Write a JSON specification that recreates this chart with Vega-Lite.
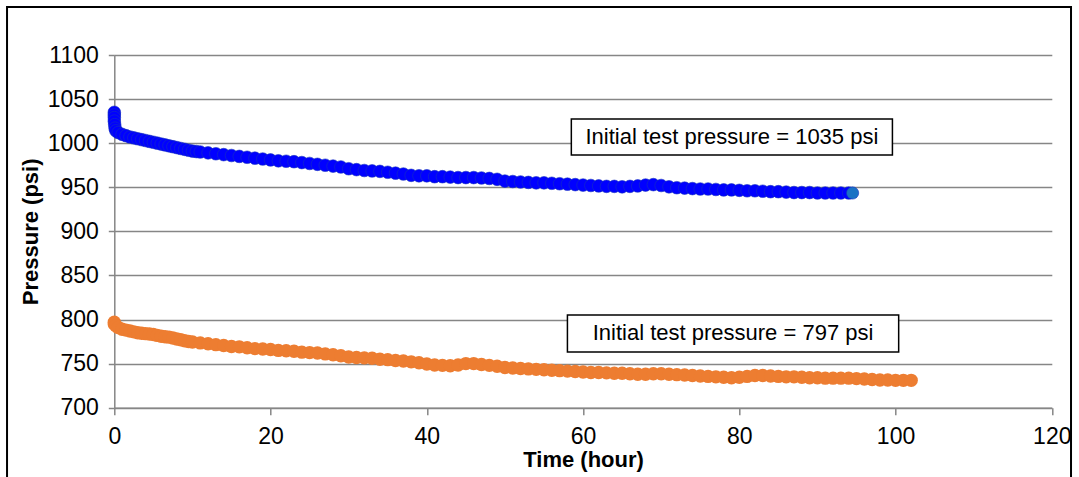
{
  "$schema": "https://vega.github.io/schema/vega-lite/v6.json",
  "width": 937.5,
  "height": 352.7,
  "autosize": {"type": "none"},
  "padding": {"left": 114.3, "top": 55, "right": 27.2, "bottom": 69.3},
  "background": "white",
  "config": {"view": {"stroke": null}, "font": "Liberation Sans"},
  "datasets": {
    "blue": [
      {"t": 0, "p": 1035}, {"t": 0, "p": 1032}, {"t": 0, "p": 1029}, {"t": 0, "p": 1025}, {"t": 0.05, "p": 1021}, {"t": 0.1, "p": 1017}, {"t": 0.2, "p": 1014},
      {"t": 0.5, "p": 1012}, {"t": 1, "p": 1010}, {"t": 1.5, "p": 1008.5}, {"t": 2, "p": 1007}, {"t": 2.5, "p": 1006}, {"t": 3, "p": 1005}, {"t": 3.5, "p": 1004}, {"t": 4, "p": 1003}, {"t": 4.5, "p": 1002}, {"t": 5, "p": 1001},
      {"t": 5.5, "p": 1000}, {"t": 6, "p": 999}, {"t": 6.5, "p": 998}, {"t": 7, "p": 997}, {"t": 7.5, "p": 996}, {"t": 8, "p": 995}, {"t": 8.5, "p": 994}, {"t": 9, "p": 993}, {"t": 9.5, "p": 992}, {"t": 10, "p": 991}, {"t": 10.5, "p": 990.5}, {"t": 11, "p": 990},
      {"t": 12, "p": 989}, {"t": 13, "p": 988}, {"t": 14, "p": 987}, {"t": 15, "p": 986}, {"t": 16, "p": 985}, {"t": 17, "p": 984},
      {"t": 18, "p": 983}, {"t": 19, "p": 982}, {"t": 20, "p": 981}, {"t": 21, "p": 980}, {"t": 22, "p": 979.5}, {"t": 23, "p": 979},
      {"t": 24, "p": 978}, {"t": 25, "p": 977}, {"t": 26, "p": 976}, {"t": 27, "p": 975}, {"t": 28, "p": 974}, {"t": 29, "p": 973},
      {"t": 30, "p": 971}, {"t": 31, "p": 970}, {"t": 32, "p": 969}, {"t": 33, "p": 968.5}, {"t": 34, "p": 968}, {"t": 35, "p": 967},
      {"t": 36, "p": 966}, {"t": 37, "p": 965}, {"t": 38, "p": 963.5}, {"t": 39, "p": 963}, {"t": 40, "p": 963}, {"t": 41, "p": 962},
      {"t": 42, "p": 962}, {"t": 43, "p": 961.5}, {"t": 44, "p": 961}, {"t": 45, "p": 961}, {"t": 46, "p": 961}, {"t": 47, "p": 960.5},
      {"t": 48, "p": 960}, {"t": 49, "p": 959}, {"t": 50, "p": 957}, {"t": 51, "p": 956.5}, {"t": 52, "p": 956}, {"t": 53, "p": 955.5},
      {"t": 54, "p": 955}, {"t": 55, "p": 955}, {"t": 56, "p": 954.5}, {"t": 57, "p": 954}, {"t": 58, "p": 953.5}, {"t": 59, "p": 953},
      {"t": 60, "p": 952.5}, {"t": 61, "p": 952}, {"t": 62, "p": 951.5}, {"t": 63, "p": 951}, {"t": 64, "p": 951}, {"t": 65, "p": 950.5},
      {"t": 66, "p": 951}, {"t": 67, "p": 951.5}, {"t": 68, "p": 952.5}, {"t": 69, "p": 953}, {"t": 70, "p": 952}, {"t": 71, "p": 950.5},
      {"t": 72, "p": 949.5}, {"t": 73, "p": 949}, {"t": 74, "p": 948.5}, {"t": 75, "p": 948}, {"t": 76, "p": 948}, {"t": 77, "p": 947.5},
      {"t": 78, "p": 947}, {"t": 79, "p": 947}, {"t": 80, "p": 946.5}, {"t": 81, "p": 946}, {"t": 82, "p": 946}, {"t": 83, "p": 945.5},
      {"t": 84, "p": 945}, {"t": 85, "p": 945}, {"t": 86, "p": 944.5}, {"t": 87, "p": 944}, {"t": 88, "p": 944}, {"t": 89, "p": 944},
      {"t": 90, "p": 943.5}, {"t": 91, "p": 943.5}, {"t": 92, "p": 943.5}, {"t": 93, "p": 943.5}, {"t": 94, "p": 943.5}
    ],
    "blueLast": [{"t": 94.5, "p": 943.5}],
    "orange": [
      {"t": 0, "p": 797}, {"t": 0, "p": 795}, {"t": 0.2, "p": 793}, {"t": 0.5, "p": 791},
      {"t": 1, "p": 789}, {"t": 1.5, "p": 788}, {"t": 2, "p": 787}, {"t": 2.5, "p": 786}, {"t": 3, "p": 785}, {"t": 3.5, "p": 784.5}, {"t": 4, "p": 784}, {"t": 4.5, "p": 783.5}, {"t": 5, "p": 783}, {"t": 5.5, "p": 782}, {"t": 6, "p": 781},
      {"t": 6.5, "p": 780.5}, {"t": 7, "p": 780}, {"t": 7.5, "p": 779}, {"t": 8, "p": 778}, {"t": 8.5, "p": 777}, {"t": 9, "p": 776}, {"t": 9.5, "p": 775}, {"t": 10, "p": 774.5}, {"t": 11, "p": 773.5}, {"t": 12, "p": 772.5},
      {"t": 13, "p": 771.5}, {"t": 14, "p": 770.5}, {"t": 15, "p": 769.5}, {"t": 16, "p": 769}, {"t": 17, "p": 768}, {"t": 18, "p": 767},
      {"t": 19, "p": 766.5}, {"t": 20, "p": 766}, {"t": 21, "p": 765}, {"t": 22, "p": 764.5}, {"t": 23, "p": 764}, {"t": 24, "p": 763},
      {"t": 25, "p": 762.5}, {"t": 26, "p": 762}, {"t": 27, "p": 761}, {"t": 28, "p": 760}, {"t": 29, "p": 759}, {"t": 30, "p": 757.5},
      {"t": 31, "p": 757}, {"t": 32, "p": 756.5}, {"t": 33, "p": 756}, {"t": 34, "p": 755}, {"t": 35, "p": 754.5}, {"t": 36, "p": 753.5},
      {"t": 37, "p": 753}, {"t": 38, "p": 752}, {"t": 39, "p": 751}, {"t": 40, "p": 749.5}, {"t": 41, "p": 748.5}, {"t": 42, "p": 748},
      {"t": 43, "p": 747.5}, {"t": 44, "p": 748.5}, {"t": 45, "p": 750}, {"t": 46, "p": 750}, {"t": 47, "p": 749}, {"t": 48, "p": 748},
      {"t": 49, "p": 747}, {"t": 50, "p": 745.5}, {"t": 51, "p": 745}, {"t": 52, "p": 744.5}, {"t": 53, "p": 744}, {"t": 54, "p": 743.5},
      {"t": 55, "p": 743}, {"t": 56, "p": 742.5}, {"t": 57, "p": 742}, {"t": 58, "p": 741.5}, {"t": 59, "p": 741}, {"t": 60, "p": 740.5},
      {"t": 61, "p": 740}, {"t": 62, "p": 740}, {"t": 63, "p": 739.5}, {"t": 64, "p": 739}, {"t": 65, "p": 739}, {"t": 66, "p": 738.5},
      {"t": 67, "p": 738}, {"t": 68, "p": 738}, {"t": 69, "p": 738.5}, {"t": 70, "p": 738.5}, {"t": 71, "p": 738}, {"t": 72, "p": 737.5},
      {"t": 73, "p": 737}, {"t": 74, "p": 736.5}, {"t": 75, "p": 736}, {"t": 76, "p": 735.5}, {"t": 77, "p": 735}, {"t": 78, "p": 734.5},
      {"t": 79, "p": 734}, {"t": 80, "p": 734.5}, {"t": 81, "p": 735.5}, {"t": 82, "p": 736.5}, {"t": 83, "p": 736.5}, {"t": 84, "p": 736},
      {"t": 85, "p": 735.5}, {"t": 86, "p": 735}, {"t": 87, "p": 735}, {"t": 88, "p": 734.5}, {"t": 89, "p": 734}, {"t": 90, "p": 734},
      {"t": 91, "p": 733.5}, {"t": 92, "p": 733.5}, {"t": 93, "p": 733.5}, {"t": 94, "p": 733.5}, {"t": 95, "p": 733}, {"t": 96, "p": 732.5},
      {"t": 97, "p": 732}, {"t": 98, "p": 731.5}, {"t": 99, "p": 731.5}, {"t": 100, "p": 731}, {"t": 101, "p": 731}, {"t": 102, "p": 731}
    ]
  },
  "layer": [
    {
      "data": {"values": [{}]},
      "mark": {"type": "rect", "fillOpacity": 0, "stroke": "black", "strokeWidth": 2, "clip": false},
      "encoding": {
        "x": {"datum": -13.73, "type": "quantitative", "scale": {"domain": [0, 120], "nice": false, "zero": false}},
        "x2": {"datum": 122.46},
        "y": {"datum": 1154.4, "type": "quantitative", "scale": {"domain": [700, 1100], "nice": false, "zero": false}},
        "y2": {"datum": 600}
      }
    },
    {
      "data": {"name": "blue"},
      "mark": {"type": "point", "shape": "circle", "filled": true, "size": 160, "color": "#0000FF", "stroke": "#1530c0", "strokeWidth": 0.6, "opacity": 1, "clip": false},
      "encoding": {
        "x": {
          "field": "t", "type": "quantitative",
          "scale": {"domain": [0, 120], "nice": false, "zero": false},
          "axis": {
            "values": [0, 20, 40, 60, 80, 100, 120], "grid": false, "format": "d", "labelFlush": false,
            "domain": true, "domainColor": "#868686", "domainWidth": 1.5,
            "ticks": true, "tickColor": "#868686", "tickSize": 7, "tickWidth": 1.5,
            "labelFontSize": 23, "labelColor": "black", "labelPadding": 11, "labelFont": "Liberation Sans",
            "title": "Time (hour)", "titleFontSize": 22, "titleFontWeight": "bold", "titleColor": "black", "titlePadding": 1, "titleFont": "Liberation Sans"
          }
        },
        "y": {
          "field": "p", "type": "quantitative",
          "scale": {"domain": [700, 1100], "nice": false, "zero": false},
          "axis": {
            "values": [700, 750, 800, 850, 900, 950, 1000, 1050, 1100], "format": "d",
            "grid": true, "gridColor": "#868686", "gridWidth": 1.5,
            "domain": true, "domainColor": "#868686", "domainWidth": 1.5,
            "ticks": true, "tickColor": "#868686", "tickSize": 6, "tickWidth": 1.5,
            "labelFontSize": 23, "labelColor": "black", "labelPadding": 10, "labelFont": "Liberation Sans",
            "title": "Pressure (psi)", "titleFontSize": 22, "titleFontWeight": "bold", "titleColor": "black", "titlePadding": 5, "titleFont": "Liberation Sans"
          }
        }
      }
    },
    {
      "data": {"name": "blueLast"},
      "mark": {"type": "point", "shape": "circle", "filled": true, "size": 150, "color": "#1a72c4", "stroke": "#1530c0", "strokeWidth": 0.6, "opacity": 1},
      "encoding": {
        "x": {"field": "t", "type": "quantitative"},
        "y": {"field": "p", "type": "quantitative"}
      }
    },
    {
      "data": {"name": "orange"},
      "mark": {"type": "point", "shape": "circle", "filled": true, "size": 180, "color": "#ED7D31", "opacity": 1},
      "encoding": {
        "x": {"field": "t", "type": "quantitative"},
        "y": {"field": "p", "type": "quantitative"}
      }
    },
    {
      "data": {"values": [{}]},
      "mark": {"type": "rect", "fill": "white", "stroke": "black", "strokeWidth": 1.5},
      "encoding": {
        "x": {"datum": 58.5, "type": "quantitative"},
        "x2": {"datum": 99.6},
        "y": {"datum": 1027.4, "type": "quantitative"},
        "y2": {"datum": 986.6}
      }
    },
    {
      "data": {"values": [{"label": "Initial  test pressure = 1035 psi"}]},
      "mark": {"type": "text", "fontSize": 22, "font": "Liberation Sans", "color": "black", "align": "center", "baseline": "middle"},
      "encoding": {
        "x": {"datum": 79.05, "type": "quantitative"},
        "y": {"datum": 1007, "type": "quantitative"},
        "text": {"field": "label"}
      }
    },
    {
      "data": {"values": [{}]},
      "mark": {"type": "rect", "fill": "white", "stroke": "black", "strokeWidth": 1.5},
      "encoding": {
        "x": {"datum": 58.0, "type": "quantitative"},
        "x2": {"datum": 100.4},
        "y": {"datum": 805.1, "type": "quantitative"},
        "y2": {"datum": 763.2}
      }
    },
    {
      "data": {"values": [{"label": "Initial  test pressure = 797  psi"}]},
      "mark": {"type": "text", "fontSize": 22, "font": "Liberation Sans", "color": "black", "align": "center", "baseline": "middle"},
      "encoding": {
        "x": {"datum": 79.2, "type": "quantitative"},
        "y": {"datum": 784.2, "type": "quantitative"},
        "text": {"field": "label"}
      }
    }
  ]
}
